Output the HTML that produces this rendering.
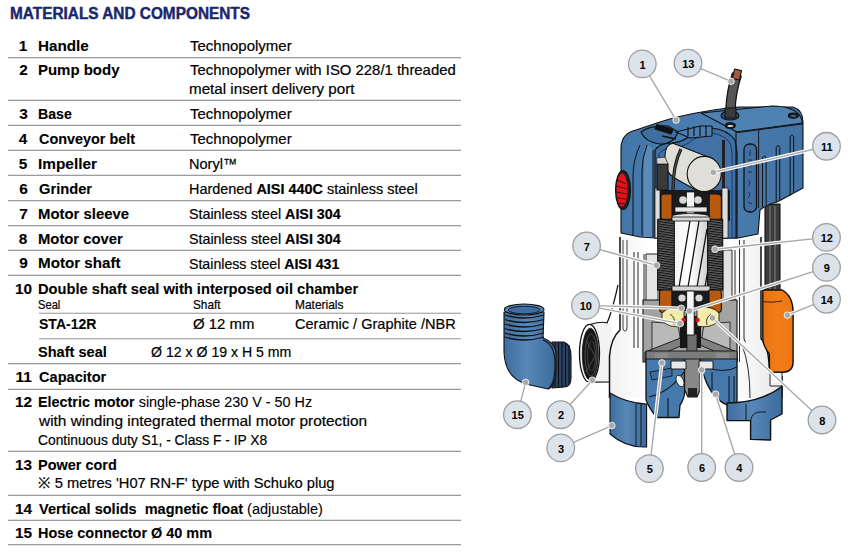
<!DOCTYPE html><html><head><meta charset="utf-8"><style>
html,body{margin:0;padding:0;background:#fff;width:848px;height:553px;overflow:hidden;position:relative}
.t{position:absolute;white-space:pre;line-height:0;font-family:"Liberation Sans",sans-serif;transform-origin:0 0}
.t span.i{display:inline-block;line-height:0}
.ln{position:absolute;height:1px;background:#a3a3a3}
.ln2{position:absolute;height:1px;background:#e2e2e2}
svg{position:absolute;left:0;top:0}
</style></head><body>

<div class='ln' style='left:8px;top:57px;width:453px;background:#9c9c9c'></div>
<div class='ln2' style='left:8px;top:58px;width:453px'></div>
<div class='ln' style='left:8px;top:100px;width:453px;background:#9c9c9c'></div>
<div class='ln2' style='left:8px;top:99px;width:453px'></div>
<div class='ln' style='left:8px;top:125px;width:453px;background:#9c9c9c'></div>
<div class='ln2' style='left:8px;top:124px;width:453px'></div>
<div class='ln' style='left:8px;top:150px;width:453px;background:#9c9c9c'></div>
<div class='ln2' style='left:8px;top:149px;width:453px'></div>
<div class='ln' style='left:8px;top:175px;width:453px;background:#9c9c9c'></div>
<div class='ln2' style='left:8px;top:174px;width:453px'></div>
<div class='ln' style='left:8px;top:200px;width:453px;background:#9c9c9c'></div>
<div class='ln2' style='left:8px;top:201px;width:453px'></div>
<div class='ln' style='left:8px;top:225px;width:453px;background:#9c9c9c'></div>
<div class='ln2' style='left:8px;top:226px;width:453px'></div>
<div class='ln' style='left:8px;top:250px;width:453px;background:#9c9c9c'></div>
<div class='ln2' style='left:8px;top:249px;width:453px'></div>
<div class='ln' style='left:8px;top:275px;width:453px;background:#9c9c9c'></div>
<div class='ln2' style='left:8px;top:274px;width:453px'></div>
<div class='ln' style='left:38.5px;top:313px;width:422.5px;background:#b0b0b0'></div>
<div class='ln2' style='left:38.5px;top:312px;width:422.5px'></div>
<div class='ln' style='left:38.5px;top:338px;width:422.5px;background:#b0b0b0'></div>
<div class='ln2' style='left:38.5px;top:339px;width:422.5px'></div>
<div class='ln' style='left:8px;top:363px;width:453px;background:#9c9c9c'></div>
<div class='ln2' style='left:8px;top:364px;width:453px'></div>
<div class='ln' style='left:8px;top:389px;width:453px;background:#9c9c9c'></div>
<div class='ln2' style='left:8px;top:388px;width:453px'></div>
<div class='ln' style='left:8px;top:451px;width:453px;background:#9c9c9c'></div>
<div class='ln2' style='left:8px;top:450px;width:453px'></div>
<div class='ln' style='left:8px;top:495px;width:453px;background:#9c9c9c'></div>
<div class='ln2' style='left:8px;top:494px;width:453px'></div>
<div class='ln' style='left:8px;top:520px;width:453px;background:#9c9c9c'></div>
<div class='ln2' style='left:8px;top:519px;width:453px'></div>
<div class='ln' style='left:8px;top:544px;width:453px;background:#9c9c9c'></div>
<div class='ln2' style='left:8px;top:545px;width:453px'></div>
<svg width="848" height="553" viewBox="0 0 848 553">
<defs>
<linearGradient id="gBlue" x1="0" x2="1" y1="0" y2="0">
<stop offset="0" stop-color="#3f6d9f"/><stop offset="0.45" stop-color="#5787b7"/><stop offset="1" stop-color="#3b6a9c"/></linearGradient>
<linearGradient id="gHead" x1="0" x2="1" y1="0" y2="0">
<stop offset="0" stop-color="#4477a9"/><stop offset="0.5" stop-color="#4b7eb0"/><stop offset="1" stop-color="#4272a4"/></linearGradient>
<linearGradient id="gWhite" x1="0" x2="1">
<stop offset="0" stop-color="#f2f2f2"/><stop offset="0.25" stop-color="#ffffff"/><stop offset="0.75" stop-color="#fbfbfb"/><stop offset="1" stop-color="#e6e6e6"/></linearGradient>
<linearGradient id="gRotor" x1="0" x2="1">
<stop offset="0" stop-color="#f4f4f4"/><stop offset="0.5" stop-color="#ffffff"/><stop offset="1" stop-color="#cfcfcf"/></linearGradient>
<linearGradient id="gOr" x1="0" x2="1">
<stop offset="0" stop-color="#e87212"/><stop offset="0.5" stop-color="#f27d16"/><stop offset="1" stop-color="#ec7613"/></linearGradient>
<pattern id="pStator" width="6" height="2.4" patternUnits="userSpaceOnUse" patternTransform="rotate(8)">
<rect width="6" height="2.4" fill="#151515"/><rect y="1.2" width="6" height="1" fill="#707070"/></pattern>
<pattern id="pThread" width="4" height="4.6" patternUnits="userSpaceOnUse">
<rect width="4" height="4.6" fill="#4877b8"/><rect y="3.2" width="4" height="1.3" fill="#111"/></pattern>
<pattern id="pThreadV" width="3" height="4" patternUnits="userSpaceOnUse">
<rect width="3" height="4" fill="#2a3a55"/><rect x="1.8" width="1" height="4" fill="#0d0d0d"/></pattern>
<pattern id="pHole" width="3" height="3" patternUnits="userSpaceOnUse" patternTransform="rotate(30)">
<rect width="3" height="3" fill="#1e1e1e"/><rect y="2" width="3" height="0.7" fill="#5a5a5a"/></pattern>
</defs>
<g stroke="#111" stroke-width="1.1" stroke-linejoin="round">
<!-- ===== hose connector 15 ===== -->
<path d="M552 342 L564 342 Q571 345 571 356 L571 378 Q571 387 564 387 L552 388 Z" fill="#2c4468"/>
<path d="M555 343 L555 387 M558.5 342.5 L558.5 387.5 M562 342.5 L562 387.5 M565.5 343 L565.5 386.5 M569 345 L569 384" stroke="#0e0e0e" stroke-width="1.1" fill="none"/>
<path d="M504 312 L504 352 Q505 380 530 385 L548 389 Q556 386 556 368 L556 352 Q554 342 543 338 L544 312 Z" fill="url(#gBlue)"/>
<path d="M543 340 Q555 344 555 364 Q555 384 548 389" fill="none"/>
<path d="M504.5 315 Q524 321 544 315 M504.5 319.5 Q524 325.5 544 319.5 M504.5 324 Q524 330 544 324 M504.5 328.5 Q524 334.5 544 328.5 M504.5 333 Q524 339 544 333 M504.5 337 Q524 343 544 337" fill="none" stroke-width="1.3"/>
<ellipse cx="524.2" cy="309.5" rx="19.8" ry="5.5" fill="#5b8bbb"/>
<ellipse cx="524.2" cy="310" rx="16" ry="3.8" fill="#3f6ea3" stroke-width="0.9"/>
<!-- ===== float rod ===== -->
<rect x="765" y="204" width="15" height="90" fill="#3c3c3c"/>
<path d="M770 206 L770 292 M775 206 L775 292" stroke="#777" stroke-width="1.2" fill="none"/>
<!-- ===== rear housing + outlet 2 ===== -->

<path d="M590 324.5 Q602 321 612 324 L612 382 L590 382.2 Z" fill="#f3f3f3" stroke="none"/>
<path d="M590 324.5 Q602 321 607 323 Q612 312 618 285 M590 382.2 L611 382" fill="none" stroke-width="1.2"/>
<ellipse cx="589.5" cy="353.4" rx="10" ry="29" fill="#f8f8f8" stroke-width="1.3"/>
<ellipse cx="590.3" cy="354.2" rx="8" ry="26" fill="#161616" stroke-width="0.8"/>
<ellipse cx="591" cy="355" rx="6" ry="21" fill="none" stroke="#5a5a5a" stroke-width="0.8"/>
<ellipse cx="591.5" cy="356" rx="4" ry="15" fill="none" stroke="#4a4a4a" stroke-width="0.8"/>
<path d="M586 340 L595 356 L586 372" fill="none" stroke="#555" stroke-width="0.8"/>
<!-- ===== body white ===== -->
<path d="M619 237 L761 237 L761 338.6 Q769 346 769.5 372 L782 376 L782 398 L609.5 398 L609.5 356 Q611 338 620 330 Z" fill="url(#gWhite)" stroke="none"/>
<path d="M620 237 L620 330 Q611 338 609.5 356 L609.5 398 M761 237 L761 338.6 Q769 346 769.5 372 M782 376 L782 398" fill="none" stroke-width="1.5"/>
<path d="M623 240 L623 328 Q623 331 625 331 Q627 331 627 328 L627 240" fill="none" stroke-width="0.8"/>
<path d="M634 252 L634 348 M638 252 L638 348 M644 254 L644 360" fill="none" stroke-width="0.9"/>
<path d="M735 250 L735 340 M739.5 240 L739.5 362 M744 240 L744 338 Q744 342 746 342 M742 345 Q750 365 750 398" fill="none" stroke-width="0.9"/>
<!-- motor sleeve -->
<path d="M646 254 L658 254 L658 320 L646 320 Z" fill="#e4e4e4" stroke-width="0.9"/>
<path d="M723 250 L732 250 L732 320 L723 320 Z" fill="#e2e2e2" stroke-width="0.9"/>
<!-- ===== gray chamber ===== -->
<path d="M643 300 L737 300 L737 362 L643 362 Z" fill="#a3a3a3"/>
<path d="M652 322 L678 324 L681 344 L652 351 Z M730 322 L704 324 L701 344 L730 351 Z" fill="#b9b9b9" stroke-width="0.8"/>
<path d="M645 352 L683 337 L700 337 L737 352 L737 361 L700 345 L683 345 L645 361 Z" fill="#808080" stroke-width="0.9"/>

<rect x="680" y="316" width="21" height="32" fill="#161616" stroke="none"/>
<rect x="687" y="334" width="10" height="28" fill="#6e6e6e" stroke-width="0.8"/>
<!-- ===== blue impeller housings ===== -->
<path d="M646 358 L684.6 358 L684.6 392 Q684 400 680 405 L679 417.5 L657 417.5 Q650 410 646 400 Z" fill="#4679ab" stroke-width="1.3"/>
<path d="M649 397 Q670 392 684 372 M657 417 L657 400 M668 417 L668 398" fill="none" stroke-width="1.1"/>
<path d="M650 372 L672 368 L672 376 L652 380 Z" fill="#3e6c9f" stroke-width="0.8"/>
<ellipse cx="680" cy="381" rx="3.5" ry="6" fill="#f2f2f2" stroke-width="0.8" transform="rotate(-25 680 381)"/>
<path d="M700 358 L737 358 L737 405 L727 405 Q711 398 703.7 375 L700 372 Z" fill="#4679ab" stroke-width="1.3"/>
<path d="M706 367 Q724 374 737 367 M729 376 L729 404 M734 376 L734 404 M712 372 L712 390" fill="none" stroke-width="1"/>
<!-- grinder -->
<path d="M684.6 356 L700 356 L700 390 L697 397 L688 397 L684.6 390 Z" fill="#888" stroke-width="1.1"/>
<path d="M688 388 L697 388 L697 397 L688 397 Z" fill="#222" stroke="none"/>
<rect x="646" y="351" width="91" height="8" fill="#7c7c7c" stroke-width="0.9"/>
<path d="M671 361 L686 361 L686 369 L671 369 Z M699 361 L713 361 L713 369 L699 369 Z" fill="#e8e8e8" stroke-width="0.9"/>
<path d="M655 353 L668 353 L668 358 L655 358 Z M716 353 L729 353 L729 358 L716 358 Z" fill="#8c8c8c" stroke="none"/>
<!-- ===== base left (3) ===== -->
<path d="M610 393 Q626 403 646.6 404 L646.6 447 Q626 448 610 434 Z" fill="url(#gBlue)"/>
<path d="M636 404 L636 446 M641 404 L641 446" fill="none" stroke-width="0.9"/>
<!-- ===== base right ===== -->
<path d="M727 403 Q760 403 782 386.5 L782 414 L770.6 420 L770.6 440 L750.6 439.4 L750.6 420.6 L727 420.6 Z" fill="url(#gBlue)" stroke-width="1.4"/>
<path d="M746 404 L746 420.6 M750.6 420.6 Q752 412 760 412 L766 412" fill="none" stroke-width="0.9"/>
<!-- float -->
<path d="M762.8 301 L762.8 290 L782.3 290 Q793 296 793.1 312 L793.1 362 Q793 372 783 372.2 L769.5 372.2 L769.3 354 Q763 346 762.8 338.6 Z" fill="url(#gOr)" stroke-width="1.4"/>
<path d="M763 301.7 Q772 303 782.3 301" fill="none" stroke-width="0.8"/>
<path d="M770 372.5 L782 372.5 L782 386 L770 386 Z" fill="#f4f4f4" stroke-width="0.9"/>
<!-- ===== head ===== -->
<path d="M621 233 L621 147 Q622 133 636 130 L660 122 Q690 112 738 107 L793 107 Q803 110 803 122 L803 188 L779 201 Q766 205 760 210 L758 234 L738 238 L655 238 L640 237 Z" fill="url(#gHead)"/>
<path d="M701 113 L772 106 Q797 106 802 120 L802 124 L738 132.5 Z" fill="#4f82b3"/>
<ellipse cx="730.3" cy="125.5" rx="5" ry="2.8" fill="#1a1a1a"/><ellipse cx="730.3" cy="126" rx="3" ry="1" fill="#ddd" stroke="none"/>
<ellipse cx="793.3" cy="115.6" rx="5" ry="2.6" fill="#1a1a1a"/><ellipse cx="793.3" cy="116" rx="3" ry="1" fill="#3a6aa8" stroke="none"/>
<ellipse cx="730" cy="115.5" rx="9" ry="4.5" fill="#2d4c72"/>
<path d="M758.6 130 L758.6 208" fill="none" stroke-width="0.9"/>
<path d="M736 132 L803 123" fill="none"/>
<path d="M644 150 Q646 146 650 146 L653 150 L653 237 L644 237 Z" fill="#5a8abb" stroke="none"/>
<path d="M640 145 Q633 160 633 176 L633 236 M647 145 Q642 158 642 171 L642 236 M653 150 L653 237" fill="none" stroke-width="1"/>
<!-- cutaway interior (blue) -->
<path d="M655 238 L655 150 Q660 143 672 143 Q684 142 692 134 L712 128 Q728 130 735 140 L737 152 L737 238 Z" fill="#3f6fa2" stroke-width="1.2"/>
<path d="M659 238 L659 154 Q664 147.5 674 147.5 Q686 146.5 694 139 L712 133 Q726 135 731 145 L732 155 L732 238 Z" fill="#4272a5" stroke="#1d3a66" stroke-width="1"/>
<path d="M641 132 Q650 125 668 126 L678 132 Q674 144 660 144 Q645 142 641 132 Z" fill="#3f6ea3"/>
<path d="M657 124.5 L673 129.5 L671 134 L655 129 Z" fill="#111"/>
<path d="M662 136 L676 139" stroke="#111" stroke-width="1.5" fill="none"/>
<path d="M676 132 L700 126 L712 126 L712 136 L690 138 Z" fill="#4c7eb2"/>
<path d="M688 127 L688 136 M694 126.5 L694 136 M700 126 L700 136 M706 126 L706 136" stroke="#111" stroke-width="1.2" fill="none"/>
<rect x="722" y="140" width="3" height="52" fill="#222" stroke="none"/>
<!-- bearing region dark -->
<rect x="656" y="190" width="74" height="31" fill="#1b1b1b" stroke="none"/>
<rect x="655" y="188" width="5" height="50" fill="#dcdcdc" stroke-width="0.7"/>
<rect x="722" y="188" width="6" height="50" fill="#dcdcdc" stroke-width="0.7"/>
<rect x="686.5" y="192" width="8" height="24" fill="#f2f2f2" stroke-width="0.7"/>
<circle cx="683" cy="200" r="3.8" fill="#d8d8d8" stroke="none"/><circle cx="698" cy="200" r="3.8" fill="#d8d8d8" stroke="none"/>
<rect x="675" y="207" width="32" height="5" fill="#e8e8e8" stroke-width="0.7"/>
<ellipse cx="690.5" cy="216.5" rx="19" ry="3" fill="#e6e6e6" stroke-width="0.8"/>
<!-- capacitor -->
<path d="M673 143.3 L708.3 156.9 L696 190 L674.4 177.9 Q662 170 665.6 151 Q667 144 673 143.3 Z" fill="#dfdfd7"/>
<ellipse cx="704.2" cy="174" rx="17" ry="17.6" fill="#dfdfd7"/>
<path d="M657 164 L668 164 L668 190 L657 190 Z" fill="#3a3a3a"/>
<path d="M656.5 158 L665 157 L668 164 L657 164 Z" fill="#d8d6cc" stroke-width="0.7"/>
<path d="M681 149 Q673 165 673 190" stroke="#111" stroke-width="3.2" fill="none"/>
<path d="M681 149 Q673 165 673 190" stroke="#4a4a4a" stroke-width="1.6" fill="none"/>
<!-- upper coils -->
<path d="M661 196 Q661 194 665 194 L672 194 L672 220 L663 220 Q661 220 661 216 Z" fill="#b65a12"/>
<path d="M709.2 194 L717 194 Q721.4 194 721.4 198 L721.4 218 Q721.4 220 718 220 L709.2 220 Z" fill="#b65a12"/>
<path d="M736 132 L736 238" fill="none"/>
<!-- ===== stator + rotor ===== -->
<rect x="657.7" y="219.3" width="65" height="71" fill="url(#pStator)"/>
<rect x="674.3" y="219.5" width="33.3" height="69" fill="url(#gRotor)"/>
<path d="M679 287 L690 221 M688 287 L699 221 M697 287 L707 229 M705 287 L707.6 272" fill="none" stroke-width="1.3"/>
<path d="M672 217 L710 217 L710 221 L672 221 Z M672 286 L710 286 L710 291 L672 291 Z" fill="#d6d6d6" stroke-width="0.8"/>
<!-- lower coils + bearing -->
<rect x="672" y="291" width="37" height="20" fill="#1b1b1b" stroke="none"/>
<circle cx="682" cy="298" r="3.6" fill="#d8d8d8" stroke="none"/><circle cx="699" cy="298" r="3.6" fill="#d8d8d8" stroke="none"/>
<path d="M659.5 292 Q659.5 290 663 290 L671.8 290 L671.8 312.4 L663 312.4 Q659.5 312.4 659.5 309 Z" fill="#b65a12"/>
<path d="M709 290 L718 290 Q721.4 290 721.4 293 L721.4 309 Q721.4 312.4 718 312.4 L709 312.4 Z" fill="#b65a12"/>
<!-- yellow oil -->
<path d="M662 313 Q670 305 684 308 L684 326 Q668 329 662 320 Z M697 308 Q712 305 719 313 L719 321 Q710 329 697 326 Z" fill="#f3ecaa" stroke-width="0.8"/>
<path d="M670 314 Q676 318 674 325 M711 314 Q705 318 707 325" fill="none" stroke-width="0.8"/>
<!-- shaft -->
<rect x="686.6" y="291" width="7.6" height="44" fill="#f6f6f6" stroke-width="0.9"/>
<circle cx="683.5" cy="320" r="2.2" fill="#e01010" stroke="none"/><circle cx="697.5" cy="320" r="2.2" fill="#e01010" stroke="none"/>
<!-- logo plate + grooves -->
<rect x="744" y="144" width="12.5" height="68" rx="5.5" fill="#416fa3" stroke-width="1.3"/>
<path d="M750 150 L750 156 M748 160 L752 160 M748 166 L752 166 M748 172 L752 172 M748 180 Q752 182 748 186 M748 192 Q752 194 748 198 M748 202 L752 204" stroke="#1a2f55" stroke-width="1" fill="none"/>
<path d="M762.5 207 L762.5 158 Q764.3 154 766.1 158 L766.1 205 M776.2 203 L776.2 147.5 Q778 143.5 779.8 147.5 L779.8 200 M790.1 196 L790.1 137 Q791.9 133 793.7 137 L793.7 192" fill="none" stroke-width="1"/>
<!-- red button -->
<ellipse cx="623" cy="190" rx="7.5" ry="19.5" fill="#222"/>
<ellipse cx="622" cy="190" rx="5.5" ry="16.5" fill="#e4141b" stroke="none"/>
<path d="M617 180 L626 184 M616.5 186 L627 189 M616.5 192 L627 194 M617 198 L626.5 199 M617.5 203 L625.5 204" stroke="#3a0505" stroke-width="0.9" fill="none"/>
<!-- cable -->
<path d="M737 74 Q731 92 730.5 110" fill="none" stroke="#111" stroke-width="10.5"/>
<path d="M737 74 Q731 92 730.5 110" fill="none" stroke="#565656" stroke-width="8"/>
<rect x="725" y="108" width="11" height="10" fill="#3a3a3a"/>
<path d="M734.5 69 L741.5 70.5 L739.5 80 L732.5 78.5 Z" fill="#9e5a3e"/>
</g>
<!-- leaders -->
<g stroke="#ffffff" stroke-width="3.6" fill="none" stroke-linecap="round">
<path d="M642.3 63.9 L676.1 120.1"/>
<path d="M688 63.1 L731 81.3"/>
<path d="M826.5 146.3 L713.3 172.3"/>
<path d="M826.5 237.4 L715 249.3"/>
<path d="M826.5 267.4 L689.5 311"/>
<path d="M826.5 299.3 L787.4 315.2"/>
<path d="M822 420 L712.5 318"/>
<path d="M586.6 246 L656.5 265.3"/>
<path d="M585.5 305.4 L681.3 308.3 M585.5 305.4 L680.1 323.6"/>
<path d="M517.4 414.7 L525.6 382.4"/>
<path d="M560.8 414.7 L592.3 380.2"/>
<path d="M560.8 447.9 L611.8 425.6"/>
<path d="M649.4 468.6 L661.9 362.9"/>
<path d="M701.7 467.5 L701.7 369.9"/>
<path d="M739 467.5 L715.6 394.2"/>
</g>

<g stroke="#a9a9a9" stroke-width="1.4" fill="none">
<path d="M642.3 63.9 L676.1 120.1"/>
<path d="M688 63.1 L731 81.3"/>
<path d="M826.5 146.3 L713.3 172.3"/>
<path d="M826.5 237.4 L715 249.3"/>
<path d="M826.5 267.4 L689.5 311"/>
<path d="M826.5 299.3 L787.4 315.2"/>
<path d="M822 420 L712.5 318"/>
<path d="M586.6 246 L656.5 265.3"/>
<path d="M585.5 305.4 L681.3 308.3 M585.5 305.4 L680.1 323.6"/>
<path d="M517.4 414.7 L525.6 382.4"/>
<path d="M560.8 414.7 L592.3 380.2"/>
<path d="M560.8 447.9 L611.8 425.6"/>
<path d="M649.4 468.6 L661.9 362.9"/>
<path d="M701.7 467.5 L701.7 369.9"/>
<path d="M739 467.5 L715.6 394.2"/>
</g>
<g fill="#a9a9a9" stroke="#fff" stroke-width="0.8">
<circle cx="676.1" cy="120.1" r="3.3"/><circle cx="731" cy="81.3" r="3.3"/><circle cx="713.3" cy="172.3" r="3.3"/>
<circle cx="715" cy="249.3" r="3.3"/><circle cx="689.5" cy="311" r="3.3"/><circle cx="787.4" cy="315.2" r="3.3"/>
<circle cx="712.5" cy="318" r="3.3"/><circle cx="656.5" cy="265.3" r="3.3"/><circle cx="681.3" cy="308.3" r="3.3"/><circle cx="680.1" cy="323.6" r="3.3"/>
<circle cx="525.6" cy="382.4" r="3.3"/><circle cx="592.3" cy="380.2" r="3.3"/><circle cx="611.8" cy="425.6" r="3.3"/>
<circle cx="661.9" cy="362.9" r="3.3"/><circle cx="701.7" cy="369.9" r="3.3"/><circle cx="715.6" cy="394.2" r="3.3"/>
</g>
<g fill="#dce3ea" stroke="#9e9e9e" stroke-width="1.3">
<circle cx="642.3" cy="63.9" r="13.8"/><circle cx="688" cy="63.1" r="13.8"/><circle cx="826.5" cy="146.3" r="13.8"/>
<circle cx="826.5" cy="237.4" r="13.8"/><circle cx="826.5" cy="267.4" r="13.8"/><circle cx="826.5" cy="299.3" r="13.8"/>
<circle cx="822" cy="420" r="13.8"/><circle cx="586.6" cy="246" r="13.8"/><circle cx="585.5" cy="305.4" r="13.8"/>
<circle cx="517.4" cy="414.7" r="13.8"/><circle cx="560.8" cy="414.7" r="13.8"/><circle cx="560.8" cy="447.9" r="13.8"/>
<circle cx="649.4" cy="468.6" r="13.8"/><circle cx="701.7" cy="467.5" r="13.8"/><circle cx="739" cy="467.5" r="13.8"/>
</g>
<g font-family="Liberation Sans" font-weight="bold" font-size="11" text-anchor="middle" fill="#000">
<text x="642.6" y="68.65">1</text><text x="688.3" y="67.85">13</text><text x="826.8" y="151.05">11</text><text x="826.8" y="242.15">12</text><text x="826.8" y="272.15">9</text><text x="826.8" y="304.05">14</text><text x="822.3" y="424.75">8</text><text x="586.9" y="250.75">7</text><text x="585.8" y="310.15">10</text><text x="517.7" y="419.45">15</text><text x="561.1" y="419.45">2</text><text x="561.1" y="452.65">3</text><text x="649.7" y="473.35">5</text><text x="702.0" y="472.25">6</text><text x="739.3" y="472.25">4</text>
</g>
</svg>

<div class='t' id='t0' style='left:10.20px;top:14.38px;font-size:16.8px;font-weight:bold;color:#1b276b;-webkit-text-stroke:0.45px #1b276b;transform:scaleX(0.9161)'>MATERIALS AND COMPONENTS</div>
<div class='t' id='t1' style='left:18.80px;top:46.06px;font-size:15.4px;font-weight:bold;color:#000;-webkit-text-stroke:0.1px #000;transform:scaleX(1.0000)'>1</div>
<div class='t' id='t2' style='left:38.20px;top:46.06px;font-size:15.4px;font-weight:bold;color:#000;-webkit-text-stroke:0.1px #000;transform:scaleX(0.9901)'>Handle</div>
<div class='t' id='t3' style='left:190.00px;top:46.20px;font-size:15.0px;font-weight:normal;color:#000;-webkit-text-stroke:0.2px #000;transform:scaleX(0.9990)'>Technopolymer</div>
<div class='t' id='t4' style='left:19.30px;top:69.96px;font-size:15.4px;font-weight:bold;color:#000;-webkit-text-stroke:0.1px #000;transform:scaleX(1.0000)'>2</div>
<div class='t' id='t5' style='left:38.20px;top:69.96px;font-size:15.4px;font-weight:bold;color:#000;-webkit-text-stroke:0.1px #000;transform:scaleX(0.9724)'>Pump body</div>
<div class='t' id='t6' style='left:190.00px;top:70.10px;font-size:15.0px;font-weight:normal;color:#000;-webkit-text-stroke:0.2px #000;transform:scaleX(0.9929)'>Technopolymer with ISO 228/1 threaded</div>
<div class='t' id='t7' style='left:189.00px;top:88.50px;font-size:15.0px;font-weight:normal;color:#000;-webkit-text-stroke:0.2px #000;transform:scaleX(1.0129)'>metal insert delivery port</div>
<div class='t' id='t8' style='left:19.30px;top:114.26px;font-size:15.4px;font-weight:bold;color:#000;-webkit-text-stroke:0.1px #000;transform:scaleX(1.0000)'>3</div>
<div class='t' id='t9' style='left:38.20px;top:114.26px;font-size:15.4px;font-weight:bold;color:#000;-webkit-text-stroke:0.1px #000;transform:scaleX(0.9198)'>Base</div>
<div class='t' id='t10' style='left:190.00px;top:114.40px;font-size:15.0px;font-weight:normal;color:#000;-webkit-text-stroke:0.2px #000;transform:scaleX(0.9990)'>Technopolymer</div>
<div class='t' id='t11' style='left:18.80px;top:139.26px;font-size:15.4px;font-weight:bold;color:#000;-webkit-text-stroke:0.1px #000;transform:scaleX(1.0000)'>4</div>
<div class='t' id='t12' style='left:39.20px;top:139.26px;font-size:15.4px;font-weight:bold;color:#000;-webkit-text-stroke:0.1px #000;transform:scaleX(0.9364)'>Conveyor belt</div>
<div class='t' id='t13' style='left:190.00px;top:139.40px;font-size:15.0px;font-weight:normal;color:#000;-webkit-text-stroke:0.2px #000;transform:scaleX(0.9990)'>Technopolymer</div>
<div class='t' id='t14' style='left:18.80px;top:164.26px;font-size:15.4px;font-weight:bold;color:#000;-webkit-text-stroke:0.1px #000;transform:scaleX(1.0000)'>5</div>
<div class='t' id='t15' style='left:38.20px;top:164.26px;font-size:15.4px;font-weight:bold;color:#000;-webkit-text-stroke:0.1px #000;transform:scaleX(1.0003)'>Impeller</div>
<div class='t' id='t16' style='left:189.00px;top:164.40px;font-size:15.0px;font-weight:normal;color:#000;-webkit-text-stroke:0.2px #000;transform:scaleX(0.9682)'>Noryl™</div>
<div class='t' id='t17' style='left:19.30px;top:189.06px;font-size:15.4px;font-weight:bold;color:#000;-webkit-text-stroke:0.1px #000;transform:scaleX(1.0000)'>6</div>
<div class='t' id='t18' style='left:39.20px;top:189.06px;font-size:15.4px;font-weight:bold;color:#000;-webkit-text-stroke:0.1px #000;transform:scaleX(0.9548)'>Grinder</div>
<div class='t' id='t19' style='left:189.00px;top:189.20px;font-size:15.0px;font-weight:normal;color:#000;-webkit-text-stroke:0.2px #000;transform:scaleX(0.9623)'>Hardened <b>AISI 440C</b> stainless steel</div>
<div class='t' id='t20' style='left:19.30px;top:214.06px;font-size:15.4px;font-weight:bold;color:#000;-webkit-text-stroke:0.1px #000;transform:scaleX(1.0000)'>7</div>
<div class='t' id='t21' style='left:38.20px;top:214.06px;font-size:15.4px;font-weight:bold;color:#000;-webkit-text-stroke:0.1px #000;transform:scaleX(0.9677)'>Motor sleeve</div>
<div class='t' id='t22' style='left:189.00px;top:214.20px;font-size:15.0px;font-weight:normal;color:#000;-webkit-text-stroke:0.2px #000;transform:scaleX(0.9522)'>Stainless steel <b>AISI 304</b></div>
<div class='t' id='t23' style='left:18.80px;top:238.76px;font-size:15.4px;font-weight:bold;color:#000;-webkit-text-stroke:0.1px #000;transform:scaleX(1.0000)'>8</div>
<div class='t' id='t24' style='left:38.20px;top:238.76px;font-size:15.4px;font-weight:bold;color:#000;-webkit-text-stroke:0.1px #000;transform:scaleX(0.9626)'>Motor cover</div>
<div class='t' id='t25' style='left:189.00px;top:238.90px;font-size:15.0px;font-weight:normal;color:#000;-webkit-text-stroke:0.2px #000;transform:scaleX(0.9522)'>Stainless steel <b>AISI 304</b></div>
<div class='t' id='t26' style='left:19.30px;top:263.46px;font-size:15.4px;font-weight:bold;color:#000;-webkit-text-stroke:0.1px #000;transform:scaleX(1.0000)'>9</div>
<div class='t' id='t27' style='left:38.20px;top:263.46px;font-size:15.4px;font-weight:bold;color:#000;-webkit-text-stroke:0.1px #000;transform:scaleX(0.9856)'>Motor shaft</div>
<div class='t' id='t28' style='left:189.00px;top:263.60px;font-size:15.0px;font-weight:normal;color:#000;-webkit-text-stroke:0.2px #000;transform:scaleX(0.9437)'>Stainless steel <b>AISI 431</b></div>
<div class='t' id='t29' style='left:15.05px;top:288.66px;font-size:15.4px;font-weight:bold;color:#000;-webkit-text-stroke:0.1px #000;transform:scaleX(1.0000)'>10</div>
<div class='t' id='t30' style='left:38.20px;top:288.66px;font-size:15.4px;font-weight:bold;color:#000;-webkit-text-stroke:0.1px #000;transform:scaleX(0.9526)'>Double shaft seal with interposed oil chamber</div>
<div class='t' id='t31' style='left:15.55px;top:376.66px;font-size:15.4px;font-weight:bold;color:#000;-webkit-text-stroke:0.1px #000;transform:scaleX(1.0000)'>11</div>
<div class='t' id='t32' style='left:39.20px;top:376.66px;font-size:15.4px;font-weight:bold;color:#000;-webkit-text-stroke:0.1px #000;transform:scaleX(0.9473)'>Capacitor</div>
<div class='t' id='t33' style='left:15.05px;top:402.16px;font-size:15.4px;font-weight:bold;color:#000;-webkit-text-stroke:0.1px #000;transform:scaleX(1.0000)'>12</div>
<div class='t' id='t34' style='left:38.20px;top:402.16px;font-size:15.4px;font-weight:bold;color:#000;-webkit-text-stroke:0.1px #000;transform:scaleX(0.9344)'>Electric motor <span style='font-weight:normal'>single-phase 230 V - 50 Hz</span></div>
<div class='t' id='t35' style='left:15.05px;top:464.86px;font-size:15.4px;font-weight:bold;color:#000;-webkit-text-stroke:0.1px #000;transform:scaleX(1.0000)'>13</div>
<div class='t' id='t36' style='left:38.20px;top:464.86px;font-size:15.4px;font-weight:bold;color:#000;-webkit-text-stroke:0.1px #000;transform:scaleX(0.9403)'>Power cord</div>
<div class='t' id='t37' style='left:15.05px;top:509.06px;font-size:15.4px;font-weight:bold;color:#000;-webkit-text-stroke:0.1px #000;transform:scaleX(1.0000)'>14</div>
<div class='t' id='t38' style='left:39.20px;top:509.06px;font-size:15.4px;font-weight:bold;color:#000;-webkit-text-stroke:0.1px #000;transform:scaleX(0.9431)'>Vertical solids&nbsp; magnetic float <span style='font-weight:normal'>(adjustable)</span></div>
<div class='t' id='t39' style='left:15.05px;top:533.46px;font-size:15.4px;font-weight:bold;color:#000;-webkit-text-stroke:0.1px #000;transform:scaleX(1.0000)'>15</div>
<div class='t' id='t40' style='left:38.20px;top:533.46px;font-size:15.4px;font-weight:bold;color:#000;-webkit-text-stroke:0.1px #000;transform:scaleX(0.9375)'>Hose connector Ø 40 mm</div>
<div class='t' id='t41' style='left:38.20px;top:305.10px;font-size:12.4px;font-weight:normal;color:#000;-webkit-text-stroke:0.2px #000;transform:scaleX(0.9002)'>Seal</div>
<div class='t' id='t42' style='left:193.00px;top:305.10px;font-size:12.4px;font-weight:normal;color:#000;-webkit-text-stroke:0.2px #000;transform:scaleX(0.9493)'>Shaft</div>
<div class='t' id='t43' style='left:295.20px;top:305.10px;font-size:12.4px;font-weight:normal;color:#000;-webkit-text-stroke:0.2px #000;transform:scaleX(0.9634)'>Materials</div>
<div class='t' id='t44' style='left:39.20px;top:324.06px;font-size:15.4px;font-weight:bold;color:#000;-webkit-text-stroke:0.1px #000;transform:scaleX(0.9115)'>STA-12R</div>
<div class='t' id='t45' style='left:193.00px;top:324.20px;font-size:15.0px;font-weight:normal;color:#000;-webkit-text-stroke:0.2px #000;transform:scaleX(0.9967)'>Ø 12 mm</div>
<div class='t' id='t46' style='left:295.00px;top:324.20px;font-size:15.0px;font-weight:normal;color:#000;-webkit-text-stroke:0.2px #000;transform:scaleX(0.9683)'>Ceramic / Graphite /NBR</div>
<div class='t' id='t47' style='left:38.20px;top:351.76px;font-size:15.4px;font-weight:bold;color:#000;-webkit-text-stroke:0.1px #000;transform:scaleX(0.9465)'>Shaft seal</div>
<div class='t' id='t48' style='left:151.00px;top:351.90px;font-size:15.0px;font-weight:normal;color:#000;-webkit-text-stroke:0.2px #000;transform:scaleX(0.9406)'>Ø 12 x Ø 19 x H 5 mm</div>
<div class='t' id='t49' style='left:39.20px;top:421.30px;font-size:15.0px;font-weight:normal;color:#000;-webkit-text-stroke:0.2px #000;transform:scaleX(1.0276)'>with winding integrated thermal motor protection</div>
<div class='t' id='t50' style='left:38.20px;top:439.70px;font-size:15.0px;font-weight:normal;color:#000;-webkit-text-stroke:0.2px #000;transform:scaleX(0.9204)'>Continuous duty S1, - Class F - IP X8</div>
<div class='t' id='t51' style='left:38.20px;top:483.10px;font-size:15.0px;font-weight:normal;color:#000;-webkit-text-stroke:0.2px #000;transform:scaleX(0.9785)'>※ 5 metres 'H07 RN-F' type with Schuko plug</div>
</body></html>
